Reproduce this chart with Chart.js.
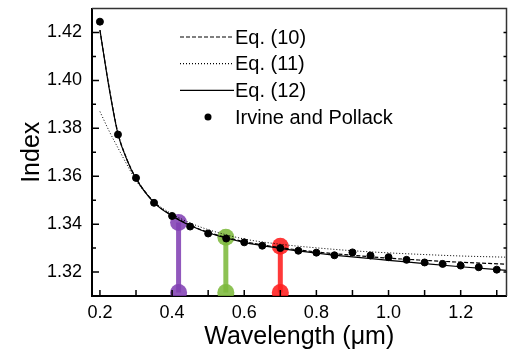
<!DOCTYPE html>
<html>
<head>
<meta charset="utf-8">
<script src="https://cdn.jsdelivr.net/npm/chart.js@4"></script>
<style>
  html, body { margin: 0; padding: 0; background: #fff; }
  #wrap { width: 515px; height: 350px; }
</style>
</head>
<body>
<div id="wrap"><canvas id="index-graph"></canvas></div>
<script>
// Irvine and Pollack measurements
const pointWl = [0.2, 0.25, 0.3, 0.35, 0.4, 0.45, 0.5, 0.55, 0.6, 0.65, 0.7, 0.75,
  0.8, 0.85, 0.9, 0.95, 1.0, 1.05, 1.1, 1.15, 1.2, 1.25, 1.3];
const irvine = [1.4245, 1.3774, 1.3593, 1.3489, 1.3434, 1.3390, 1.3361, 1.3340, 1.3324, 1.3310, 1.3300, 1.3289,
  1.3281, 1.3270, 1.3282, 1.3269, 1.3262, 1.3251, 1.3240, 1.3234, 1.3227, 1.3220, 1.3210];

// fitted curves
const curveWl = [0.2, 0.225, 0.25, 0.275, 0.3, 0.35, 0.4, 0.45, 0.5, 0.6, 0.7, 0.8, 0.9, 1.0, 1.1, 1.2, 1.327];
const eq10 = [1.4210, 1.3975, 1.3780, 1.3670, 1.3592, 1.3492, 1.3436, 1.3396, 1.3366, 1.3327, 1.3302, 1.3284, 1.3270, 1.3258, 1.3249, 1.3241, 1.3233];
const eq11 = [1.3870, 1.3790, 1.3718, 1.3648, 1.3582, 1.3494, 1.3442, 1.3405, 1.3377, 1.3338, 1.3316, 1.3301, 1.3289, 1.3280, 1.3273, 1.3267, 1.3262];
const eq12 = [1.4210, 1.3972, 1.3776, 1.3668, 1.3590, 1.3490, 1.3434, 1.3394, 1.3364, 1.3324, 1.3299, 1.3279, 1.3263, 1.3249, 1.3235, 1.3222, 1.3207];

// coloured wavelength markers
const markerWl = [0.418, 0.549, 0.70];
const markerTop = [1.3407, 1.3345, 1.3308];
const markerBottom = 1.3115;
const markerColors = ["rgba(130,65,180,0.88)", "rgba(125,185,60,0.88)", "rgba(255,30,30,0.88)"];

// axis ticks
const xTicks = [0.2, 0.4, 0.6, 0.8, 1.0, 1.2];
const xMinor = [0.2, 0.3, 0.4, 0.5, 0.6, 0.7, 0.8, 0.9, 1.0, 1.1, 1.2, 1.3];
const yTicks = [1.32, 1.34, 1.36, 1.38, 1.40, 1.42];
const yMinor = [1.32, 1.33, 1.34, 1.35, 1.36, 1.37, 1.38, 1.39, 1.40, 1.41, 1.42];

const legendItems = [
  { label: "Eq. (10)", dash: [4, 2] },
  { label: "Eq. (11)", dash: [1, 2] },
  { label: "Eq. (12)", dash: [] },
  { label: "Irvine and Pollack", dot: true },
];

const FONT = "'Liberation Sans', Arial, Helvetica, sans-serif";

const pairs = (xs, ys) => xs.map((x, i) => ({ x: x, y: ys[i] }));

const markerSets = markerWl.map((w, i) => ({
  label: "marker" + i,
  data: [{ x: w, y: markerBottom }, { x: w, y: markerTop[i] }],
  showLine: true,
  borderColor: markerColors[i],
  backgroundColor: markerColors[i],
  borderWidth: 5,
  pointRadius: 8.5,
  pointBorderWidth: 0,
}));

const frame = {
  id: "frame",
  afterDraw(chart) {
    const ctx = chart.ctx;
    const a = chart.chartArea;
    const xs = chart.scales.x;
    const ys = chart.scales.y;
    ctx.save();
    // top and right border
    ctx.strokeStyle = "#333";
    ctx.lineWidth = 1.5;
    ctx.beginPath();
    ctx.moveTo(a.left, a.top);
    ctx.lineTo(a.right, a.top);
    ctx.lineTo(a.right, a.bottom);
    ctx.stroke();
    // inward ticks
    ctx.strokeStyle = "#000";
    ctx.lineWidth = 1.5;
    ctx.beginPath();
    xMinor.forEach((v) => {
      const px = xs.getPixelForValue(v);
      ctx.moveTo(px, a.bottom);
      ctx.lineTo(px, a.bottom - 6);
    });
    yMinor.forEach((v) => {
      const py = ys.getPixelForValue(v);
      const len = yTicks.some((t) => Math.abs(t - v) < 1e-6) ? 7 : 4;
      ctx.moveTo(a.left, py);
      ctx.lineTo(a.left + len, py);
      ctx.moveTo(a.right, py);
      ctx.lineTo(a.right - 3, py);
    });
    ctx.stroke();
    // legend
    ctx.font = "20px " + FONT;
    ctx.textBaseline = "middle";
    ctx.fillStyle = "#000";
    legendItems.forEach((it, i) => {
      const y = 37 + i * 26.7;
      if (it.dot) {
        ctx.beginPath();
        ctx.arc(208, y, 3.5, 0, Math.PI * 2);
        ctx.fill();
      } else {
        ctx.setLineDash(it.dash);
        ctx.lineWidth = 1.2;
        ctx.beginPath();
        ctx.moveTo(180, y);
        ctx.lineTo(234, y);
        ctx.stroke();
        ctx.setLineDash([]);
      }
      ctx.fillText(it.label, 235, y + 1);
    });
    ctx.restore();
  },
};

const config = {
  type: "scatter",
  data: {
    datasets: [
      {
        label: "Eq. (10)",
        data: pairs(curveWl, eq10),
        showLine: true,
        borderColor: "#000",
        borderWidth: 1.2,
        borderDash: [4, 2],
        pointRadius: 0,
        cubicInterpolationMode: "monotone",
      },
      {
        label: "Eq. (11)",
        data: pairs(curveWl, eq11),
        showLine: true,
        borderColor: "#000",
        borderWidth: 1,
        borderDash: [1, 2],
        pointRadius: 0,
        cubicInterpolationMode: "monotone",
      },
      {
        label: "Eq. (12)",
        data: pairs(curveWl, eq12),
        showLine: true,
        borderColor: "#000",
        borderWidth: 1.2,
        pointRadius: 0,
        cubicInterpolationMode: "monotone",
      },
      {
        label: "Irvine and Pollack",
        data: pairs(pointWl, irvine),
        showLine: false,
        backgroundColor: "#000",
        borderColor: "#000",
        pointRadius: 3.5,
      },
      ...markerSets,
    ],
  },
  options: {
    responsive: true,
    maintainAspectRatio: false,
    animation: false,
    layout: { padding: { top: 1, right: 8, left: 0, bottom: 0 } },
    plugins: {
      legend: { display: false },
      tooltip: { enabled: false },
    },
    scales: {
      x: {
        type: "linear",
        min: 0.178,
        max: 1.327,
        grid: { display: false, drawTicks: false },
        border: { display: true, color: "#000", width: 2 },
        afterBuildTicks: (s) => { s.ticks = xTicks.map((v) => ({ value: v })); },
        afterFit: (s) => { s.height = 54; s.paddingLeft = 0; s.paddingRight = 0; },
        ticks: {
          color: "#000",
          padding: 6,
          font: { family: FONT, size: 18 },
          callback: (v) => Number(v).toFixed(1),
        },
        title: {
          display: true,
          text: "Wavelength (μm)",
          color: "#000",
          font: { family: FONT, size: 25 },
          padding: { top: 0, bottom: -2 },
        },
      },
      y: {
        type: "linear",
        min: 1.31,
        max: 1.43,
        grid: { display: false, drawTicks: false },
        border: { display: true, color: "#000", width: 2 },
        afterBuildTicks: (s) => { s.ticks = yTicks.map((v) => ({ value: v })); },
        afterFit: (s) => { s.width = 92; s.paddingTop = 0; s.paddingBottom = 0; },
        ticks: {
          color: "#000",
          padding: 10,
          font: { family: FONT, size: 18 },
          callback: (v) => Number(v).toFixed(2),
        },
        title: {
          display: true,
          text: "Index",
          color: "#000",
          font: { family: FONT, size: 25 },
          padding: { top: 17, bottom: 0 },
        },
      },
    },
  },
  plugins: [frame],
};

const myChart = new Chart(document.getElementById("index-graph"), config);
</script>
</body>
</html>
